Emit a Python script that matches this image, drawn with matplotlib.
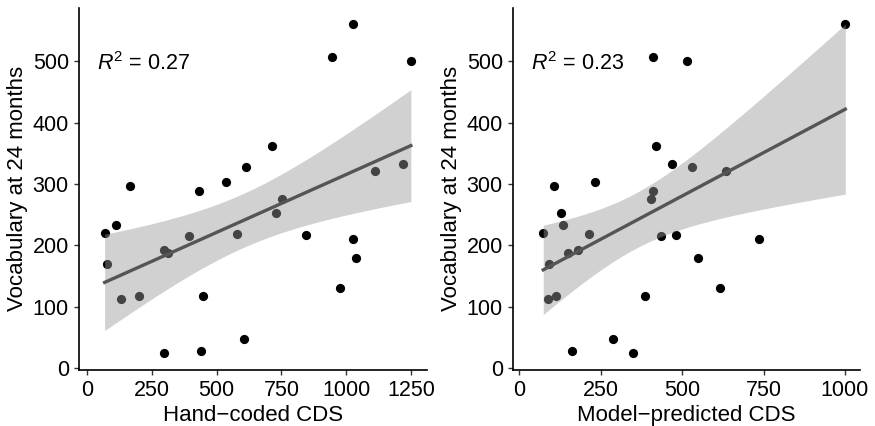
import numpy as np
import matplotlib
matplotlib.use("Agg")
import matplotlib.pyplot as plt

plt.rcParams['font.family'] = ['Liberation Sans', 'DejaVu Sans']
plt.rcParams['mathtext.fontset'] = 'custom'
plt.rcParams['mathtext.rm'] = 'Liberation Sans'
plt.rcParams['mathtext.it'] = 'Liberation Sans:italic'

vocab = [560, 507, 501, 362, 333, 327, 321, 303, 297, 289, 275, 252, 234, 220,
         219, 217, 216, 211, 192, 188, 179, 170, 131, 118, 117, 113, 47, 28, 24]
hand_cds = [1028, 945, 1250, 714, 1218, 613, 1113, 536, 166, 433, 751, 728, 110, 67,
            580, 844, 394, 1026, 298, 311, 1039, 77, 977, 448, 199, 130, 606, 439, 298]
model_cds = [1001, 412, 514, 421, 468, 530, 635, 234, 108, 412, 405, 128, 135, 74,
             215, 481, 435, 735, 181, 150, 548, 92, 615, 387, 112, 90, 288, 163, 350]

panels = [
    (hand_cds, "Hand\u2212coded CDS", "0.27", [0, 250, 500, 750, 1000, 1250], (-31, 1311)),
    (model_cds, "Model\u2212predicted CDS", "0.23", [0, 250, 500, 750, 1000], (-18, 1046)),
]

fig = plt.figure(figsize=(8.75, 4.26), dpi=100)
ax_pos = [[0.0906, 0.1326, 0.397, 0.8486], [0.5866, 0.1326, 0.3962, 0.8486]]

y = np.array(vocab, dtype=float)
t975 = 2.052  # t quantile, df = 27

for pos, (xs, xlabel, r2, xticks, xlim) in zip(ax_pos, panels):
    ax = fig.add_axes(pos)
    x = np.array(xs, dtype=float)
    ax.scatter(x, y, s=44, color='black', zorder=2, linewidths=0)

    # linear fit with 95% confidence band
    n = len(x)
    b, a = np.polyfit(x, y, 1)
    resid = y - (a + b * x)
    s = np.sqrt(np.sum(resid ** 2) / (n - 2))
    xg = np.linspace(x.min(), x.max(), 80)
    se = s * np.sqrt(1 / n + (xg - x.mean()) ** 2 / np.sum((x - x.mean()) ** 2))
    fit = a + b * xg
    ax.fill_between(xg, fit - t975 * se, fit + t975 * se, color='#999999',
                    alpha=0.45, linewidth=0, zorder=3)
    ax.plot(xg, fit, color='#555555', linewidth=2.4, zorder=4)

    ax.text(0.05, 0.845, "$R^2$ = " + r2, transform=ax.transAxes,
            fontsize=15.5, va='center', ha='left')

    ax.set_xlim(*xlim)
    ax.set_ylim(-2.3, 586.8)
    ax.set_xticks(xticks)
    ax.set_yticks([0, 100, 200, 300, 400, 500])
    ax.set_xlabel(xlabel, fontsize=16, labelpad=3)
    ax.set_ylabel("Vocabulary at 24 months", fontsize=16, labelpad=3)
    ax.tick_params(labelsize=15.5, length=3.5, width=1, color='#333333', pad=4)
    for side in ['top', 'right']:
        ax.spines[side].set_visible(False)
    for side in ['left', 'bottom']:
        ax.spines[side].set_linewidth(1.2)

fig.savefig("out.png", dpi=100)
